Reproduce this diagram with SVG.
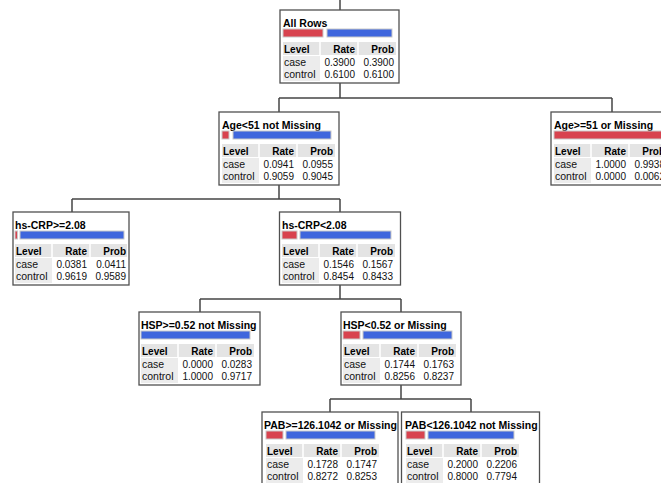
<svg xmlns="http://www.w3.org/2000/svg" width="661" height="483" viewBox="0 0 661 483">
<defs>
<style>
.box{fill:#fff;stroke:#505050;stroke-width:1.3}
.ttl{font-family:"Liberation Sans",Arial,sans-serif;font-weight:bold;font-size:10.5px;fill:#000}
.hdr{font-family:"Liberation Sans",Arial,sans-serif;font-weight:bold;font-size:10px;fill:#000}
.txt{font-family:"Liberation Sans",Arial,sans-serif;font-size:10.5px;fill:#111}
.num{font-family:"Liberation Sans",Arial,sans-serif;font-size:10px;fill:#111;text-anchor:end}
.hdrr{text-anchor:end}
.hbg{fill:#e4e4e4}
.lbg{fill:#ececec}
.sep{stroke:#fff;stroke-width:1.5}
.red{fill:#d8434f;stroke:#c9c9c9;stroke-width:1}
.blue{fill:#3f66dd;stroke:#c9c9c9;stroke-width:1}
.conn{fill:none;stroke:#454545;stroke-width:1.5}
</style>
</defs>
<rect width="661" height="483" fill="#fff"/>
<g id="connectors" class="conn">
<path d="M340 0V10"/>
<path d="M340 83V98M279 98H612M279 98V112M612 98V112"/>
<path d="M279 185V199M72 199H340M72 199V212M340 199V212"/>
<path d="M340 285V299M200 299H401M200 299V312M401 299V312"/>
<path d="M401 385V399M330 399H471M330 399V412M471 399V412"/>
</g>

<g id="node-all-rows">
<rect class="box" x="280" y="10" width="119" height="73"/>
<g transform="translate(283,10)">
<text class="ttl" x="0" y="16.5">All Rows</text>
<rect class="red" x="0" y="19" width="40" height="8"/>
<rect class="blue" x="44" y="19" width="65" height="8"/>
<rect class="hbg" x="0" y="32" width="113" height="13"/>
<path class="sep" d="M37 32V45M75 32V45"/>
<rect class="lbg" x="0" y="46" width="37" height="25"/>
<text class="hdr" x="1" y="42.5">Level</text><text class="hdr hdrr" x="72" y="42.5">Rate</text><text class="hdr hdrr" x="111" y="42.5">Prob</text>
<text class="txt" x="1" y="55.5">case</text><text class="num" x="72" y="55.5">0.3900</text><text class="num" x="111" y="55.5">0.3900</text>
<text class="txt" x="1" y="67.5">control</text><text class="num" x="72" y="67.5">0.6100</text><text class="num" x="111" y="67.5">0.6100</text>
</g>
</g>

<g id="node-age-lt51">
<rect class="box" x="219" y="112" width="120" height="73"/>
<g transform="translate(222,112)">
<text class="ttl" x="0" y="16.5">Age&lt;51 not Missing</text>
<rect class="red" x="0" y="19" width="7" height="8"/>
<rect class="blue" x="11" y="19" width="98" height="8"/>
<rect class="hbg" x="0" y="32" width="113" height="13"/>
<path class="sep" d="M37 32V45M75 32V45"/>
<rect class="lbg" x="0" y="46" width="37" height="25"/>
<text class="hdr" x="1" y="42.5">Level</text><text class="hdr hdrr" x="72" y="42.5">Rate</text><text class="hdr hdrr" x="111" y="42.5">Prob</text>
<text class="txt" x="1" y="55.5">case</text><text class="num" x="72" y="55.5">0.0941</text><text class="num" x="111" y="55.5">0.0955</text>
<text class="txt" x="1" y="67.5">control</text><text class="num" x="72" y="67.5">0.9059</text><text class="num" x="111" y="67.5">0.9045</text>
</g>
</g>

<g id="node-age-ge51">
<rect class="box" x="551" y="112" width="122" height="73"/>
<g transform="translate(554,112)">
<text class="ttl" x="0" y="16.5">Age&gt;=51 or Missing</text>
<rect class="red" x="0" y="19" width="112" height="8"/>
<rect class="hbg" x="0" y="32" width="113" height="13"/>
<path class="sep" d="M37 32V45M75 32V45"/>
<rect class="lbg" x="0" y="46" width="37" height="25"/>
<text class="hdr" x="1" y="42.5">Level</text><text class="hdr hdrr" x="72" y="42.5">Rate</text><text class="hdr hdrr" x="111" y="42.5">Prob</text>
<text class="txt" x="1" y="55.5">case</text><text class="num" x="72" y="55.5">1.0000</text><text class="num" x="111" y="55.5">0.9938</text>
<text class="txt" x="1" y="67.5">control</text><text class="num" x="72" y="67.5">0.0000</text><text class="num" x="111" y="67.5">0.0062</text>
</g>
</g>

<g id="node-hscrp-ge">
<rect class="box" x="13" y="212" width="116" height="73"/>
<g transform="translate(15,212)">
<text class="ttl" x="0" y="16.5">hs-CRP&gt;=2.08</text>
<rect class="red" x="0" y="19" width="2.5" height="8"/>
<rect class="blue" x="5" y="19" width="104" height="8"/>
<rect class="hbg" x="0" y="32" width="112" height="13"/>
<path class="sep" d="M37 32V45M75 32V45"/>
<rect class="lbg" x="0" y="46" width="37" height="25"/>
<text class="hdr" x="1" y="42.5">Level</text><text class="hdr hdrr" x="72" y="42.5">Rate</text><text class="hdr hdrr" x="111" y="42.5">Prob</text>
<text class="txt" x="1" y="55.5">case</text><text class="num" x="72" y="55.5">0.0381</text><text class="num" x="111" y="55.5">0.0411</text>
<text class="txt" x="1" y="67.5">control</text><text class="num" x="72" y="67.5">0.9619</text><text class="num" x="111" y="67.5">0.9589</text>
</g>
</g>

<g id="node-hscrp-lt">
<rect class="box" x="279.5" y="212" width="121" height="73"/>
<g transform="translate(282,212)">
<text class="ttl" x="0" y="16.5">hs-CRP&lt;2.08</text>
<rect class="red" x="0" y="19" width="15" height="8"/>
<rect class="blue" x="18" y="19" width="91" height="8"/>
<rect class="hbg" x="0" y="32" width="113" height="13"/>
<path class="sep" d="M37 32V45M75 32V45"/>
<rect class="lbg" x="0" y="46" width="37" height="25"/>
<text class="hdr" x="1" y="42.5">Level</text><text class="hdr hdrr" x="72" y="42.5">Rate</text><text class="hdr hdrr" x="111" y="42.5">Prob</text>
<text class="txt" x="1" y="55.5">case</text><text class="num" x="72" y="55.5">0.1546</text><text class="num" x="111" y="55.5">0.1567</text>
<text class="txt" x="1" y="67.5">control</text><text class="num" x="72" y="67.5">0.8454</text><text class="num" x="111" y="67.5">0.8433</text>
</g>
</g>

<g id="node-hsp-ge">
<rect class="box" x="139" y="312" width="121" height="73"/>
<g transform="translate(141,312)">
<text class="ttl" x="0" y="16.5">HSP&gt;=0.52 not Missing</text>
<rect class="blue" x="0" y="19" width="109" height="8"/>
<rect class="hbg" x="0" y="32" width="113" height="13"/>
<path class="sep" d="M37 32V45M75 32V45"/>
<rect class="lbg" x="0" y="46" width="37" height="25"/>
<text class="hdr" x="1" y="42.5">Level</text><text class="hdr hdrr" x="72" y="42.5">Rate</text><text class="hdr hdrr" x="111" y="42.5">Prob</text>
<text class="txt" x="1" y="55.5">case</text><text class="num" x="72" y="55.5">0.0000</text><text class="num" x="111" y="55.5">0.0283</text>
<text class="txt" x="1" y="67.5">control</text><text class="num" x="72" y="67.5">1.0000</text><text class="num" x="111" y="67.5">0.9717</text>
</g>
</g>

<g id="node-hsp-lt">
<rect class="box" x="341" y="312" width="120" height="73"/>
<g transform="translate(343,312)">
<text class="ttl" x="0" y="16.5">HSP&lt;0.52 or Missing</text>
<rect class="red" x="0" y="19" width="17" height="8"/>
<rect class="blue" x="20" y="19" width="89" height="8"/>
<rect class="hbg" x="0" y="32" width="113" height="13"/>
<path class="sep" d="M37 32V45M75 32V45"/>
<rect class="lbg" x="0" y="46" width="37" height="25"/>
<text class="hdr" x="1" y="42.5">Level</text><text class="hdr hdrr" x="72" y="42.5">Rate</text><text class="hdr hdrr" x="111" y="42.5">Prob</text>
<text class="txt" x="1" y="55.5">case</text><text class="num" x="72" y="55.5">0.1744</text><text class="num" x="111" y="55.5">0.1763</text>
<text class="txt" x="1" y="67.5">control</text><text class="num" x="72" y="67.5">0.8256</text><text class="num" x="111" y="67.5">0.8237</text>
</g>
</g>

<g id="node-pab-ge">
<rect class="box" x="262" y="412" width="136" height="73"/>
<g transform="translate(266,412)">
<text class="ttl" x="-2" y="16.5">PAB&gt;=126.1042 or Missing</text>
<rect class="red" x="0" y="19" width="17" height="8"/>
<rect class="blue" x="20" y="19" width="89" height="8"/>
<rect class="hbg" x="0" y="32" width="113" height="13"/>
<path class="sep" d="M37 32V45M75 32V45"/>
<rect class="lbg" x="0" y="46" width="37" height="25"/>
<text class="hdr" x="1" y="42.5">Level</text><text class="hdr hdrr" x="72" y="42.5">Rate</text><text class="hdr hdrr" x="111" y="42.5">Prob</text>
<text class="txt" x="1" y="55.5">case</text><text class="num" x="72" y="55.5">0.1728</text><text class="num" x="111" y="55.5">0.1747</text>
<text class="txt" x="1" y="67.5">control</text><text class="num" x="72" y="67.5">0.8272</text><text class="num" x="111" y="67.5">0.8253</text>
</g>
</g>

<g id="node-pab-lt">
<rect class="box" x="401.5" y="412" width="138" height="73"/>
<g transform="translate(406,412)">
<text class="ttl" x="-1" y="16.5">PAB&lt;126.1042 not Missing</text>
<rect class="red" x="0" y="19" width="19" height="8"/>
<rect class="blue" x="22" y="19" width="86" height="8"/>
<rect class="hbg" x="0" y="32" width="113" height="13"/>
<path class="sep" d="M37 32V45M75 32V45"/>
<rect class="lbg" x="0" y="46" width="37" height="25"/>
<text class="hdr" x="1" y="42.5">Level</text><text class="hdr hdrr" x="72" y="42.5">Rate</text><text class="hdr hdrr" x="111" y="42.5">Prob</text>
<text class="txt" x="1" y="55.5">case</text><text class="num" x="72" y="55.5">0.2000</text><text class="num" x="111" y="55.5">0.2206</text>
<text class="txt" x="1" y="67.5">control</text><text class="num" x="72" y="67.5">0.8000</text><text class="num" x="111" y="67.5">0.7794</text>
</g>
</g>
</svg>
